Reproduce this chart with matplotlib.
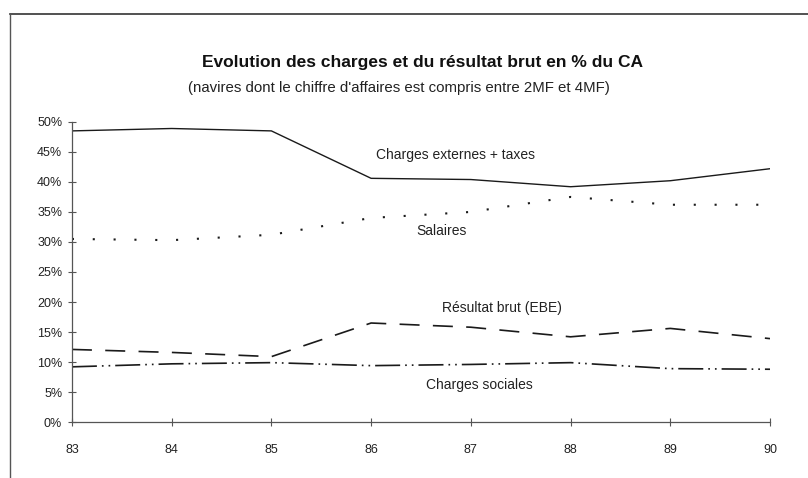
import matplotlib
matplotlib.use('Agg')
import matplotlib.pyplot as plt
from matplotlib.lines import Line2D
from matplotlib.ticker import FuncFormatter

# years (two-digit labels) and shares of turnover, in %
years = [83, 84, 85, 86, 87, 88, 89, 90]
ext_taxes = [48.5, 48.9, 48.5, 40.6, 40.4, 39.2, 40.2, 42.2]
salaires = [30.5, 30.3, 31.2, 34.0, 35.0, 37.5, 36.2, 36.2]
resultat_brut = [12.1, 11.6, 10.9, 16.5, 15.8, 14.2, 15.6, 13.9]
charges_sociales = [9.2, 9.7, 9.9, 9.4, 9.6, 9.9, 8.9, 8.8]

title = 'Evolution des charges et du résultat brut en % du CA'
subtitle = "(navires dont le chiffre d'affaires est compris entre 2MF et 4MF)"

plt.rcParams['font.family'] = ['Liberation Sans', 'DejaVu Sans']

fig = plt.figure(figsize=(8.08, 4.78), dpi=100)
ax = fig.add_axes([0.089, 0.117, 0.864, 0.628])

ink = '#1a1a1a'
ax.plot(years, ext_taxes, color=ink, lw=1.0, ls='-')
ax.plot(years, salaires, color=ink, lw=1.5, ls=(0, (1, 9)))
ax.plot(years, resultat_brut, color=ink, lw=1.2, ls=(0, (12, 8)))
ax.plot(years, charges_sociales, color=ink, lw=1.2, ls=(0, (15, 3, 1, 3, 1, 3)))

ax.set_xlim(83, 90)
ax.set_ylim(0, 50)
ax.set_xticks(years)
ax.set_yticks(range(0, 51, 5))
ax.yaxis.set_major_formatter(FuncFormatter(lambda v, p: '%d%%' % v))

for side in ('top', 'right'):
    ax.spines[side].set_visible(False)
for side in ('left', 'bottom'):
    ax.spines[side].set_color('#555555')
    ax.spines[side].set_linewidth(0.9)
ax.tick_params(axis='both', direction='inout', length=6, width=0.8,
               colors='#555555', labelcolor='#222222', labelsize=9)
ax.tick_params(axis='x', pad=13)
ax.tick_params(axis='y', pad=4)

# series labels placed next to their lines
lbl = dict(fontsize=10, color='#222222', va='center')
ax.text(86.05, 44.5, 'Charges externes + taxes', **lbl)
ax.text(86.45, 31.8, 'Salaires', **lbl)
ax.text(86.71, 19.0, 'Résultat brut (EBE)', **lbl)
ax.text(86.55, 6.2, 'Charges sociales', **lbl)

fig.text(0.523, 0.870, title, ha='center', va='center', fontsize=12.5,
         fontweight='bold', color='#111111')
fig.text(0.494, 0.815, subtitle, ha='center', va='center', fontsize=10.8,
         color='#222222')

# outer frame drawn along top and left edges
fig.add_artist(Line2D([0.0124, 1.0], [0.971, 0.971], transform=fig.transFigure,
                      color='#333333', lw=1.2))
fig.add_artist(Line2D([0.0124, 0.0124], [0.0, 0.971], transform=fig.transFigure,
                      color='#555555', lw=1.0))

fig.savefig('out.png', dpi=100, facecolor='white')
